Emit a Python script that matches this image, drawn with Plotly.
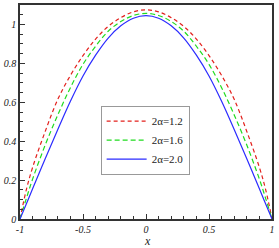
import plotly.graph_objects as go

x_vals = [-1.0, -0.95, -0.9, -0.8, -0.7, -0.6, -0.5, -0.4, -0.3, -0.2, -0.1, 0.0,
          0.1, 0.2, 0.3, 0.4, 0.5, 0.6, 0.7, 0.8, 0.9, 0.95, 1.0]

red_12 = [0.0, 0.15, 0.265, 0.45, 0.615, 0.738, 0.84, 0.925, 0.99, 1.035, 1.065, 1.075,
          1.065, 1.035, 0.99, 0.925, 0.84, 0.738, 0.615, 0.45, 0.265, 0.15, 0.0]
green_16 = [0.0, 0.105, 0.205, 0.38, 0.535, 0.675, 0.795, 0.888, 0.965, 1.015, 1.046, 1.057,
            1.046, 1.015, 0.965, 0.888, 0.795, 0.675, 0.535, 0.38, 0.205, 0.105, 0.0]
blue_20 = [0.0, 0.077, 0.155, 0.31, 0.46, 0.605, 0.735, 0.842, 0.93, 0.993, 1.032, 1.045,
           1.032, 0.993, 0.93, 0.842, 0.735, 0.605, 0.46, 0.31, 0.155, 0.077, 0.0]

series_names = ["2α=1.2", "2α=1.6", "2α=2.0"]

x_tickvals = [-1, -0.5, 0, 0.5, 1]
x_ticktext = ["-1", "-0.5", "0", "0.5", "1"]
y_tickvals = [0, 0.2, 0.4, 0.6, 0.8, 1]
y_ticktext = ["0", "0.2", "0.4", "0.6", "0.8", "1"]
x_title = "x"

font_fam = "Liberation Serif, Times New Roman, serif"

fig = go.Figure()
fig.add_trace(go.Scatter(x=x_vals, y=red_12, mode="lines", name=series_names[0],
                         line=dict(color="#e3201c", width=1.2, dash="4px,3px"), line_shape="spline"))
fig.add_trace(go.Scatter(x=x_vals, y=green_16, mode="lines", name=series_names[1],
                         line=dict(color="#1fdc1f", width=1.2, dash="5px,3px"), line_shape="spline"))
fig.add_trace(go.Scatter(x=x_vals, y=blue_20, mode="lines", name=series_names[2],
                         line=dict(color="#2b2bff", width=1.2), line_shape="spline"))

axis_common = dict(
    showgrid=False, zeroline=False, showline=True, linecolor="#333333", linewidth=1.5,
    mirror=True, ticks="inside", ticklen=5, tickwidth=1, tickcolor="#333333",
    tickfont=dict(family=font_fam, size=10, color="#222222"), automargin=False,
)

fig.update_xaxes(range=[-1, 1], tickvals=x_tickvals,
                 ticktext=["<i>%s</i>" % t for t in x_ticktext],
                 minor=dict(dtick=0.1, ticks="inside", ticklen=3, tickcolor="#333333"),
                 **axis_common)
fig.update_yaxes(range=[0, 1.1], tickvals=y_tickvals,
                 ticktext=["<i>%s</i>" % t for t in y_ticktext],
                 minor=dict(dtick=0.05, ticks="inside", ticklen=3, tickcolor="#333333"),
                 **axis_common)

fig.add_annotation(text="<i>%s</i>" % x_title, xref="paper", yref="paper", x=0.505, y=-0.105,
                   xanchor="center", yanchor="middle", showarrow=False,
                   font=dict(family=font_fam, size=12, color="#222222"))

fig.update_layout(
    width=279, height=248,
    margin=dict(l=20, r=7, t=5, b=29),
    plot_bgcolor="white", paper_bgcolor="white",
    font=dict(family=font_fam, size=10, color="#222222"),
    legend=dict(x=0.32, y=0.53, xanchor="left", yanchor="top",
                bordercolor="#999999", borderwidth=1, bgcolor="white",
                font=dict(family=font_fam, size=11, color="#222222"),
                itemwidth=40, tracegroupgap=0),
    showlegend=True,
)

fig.write_html("out.html", config={"displayModeBar": False},
               post_script="document.body.style.margin='0';document.body.style.overflow='hidden';")
